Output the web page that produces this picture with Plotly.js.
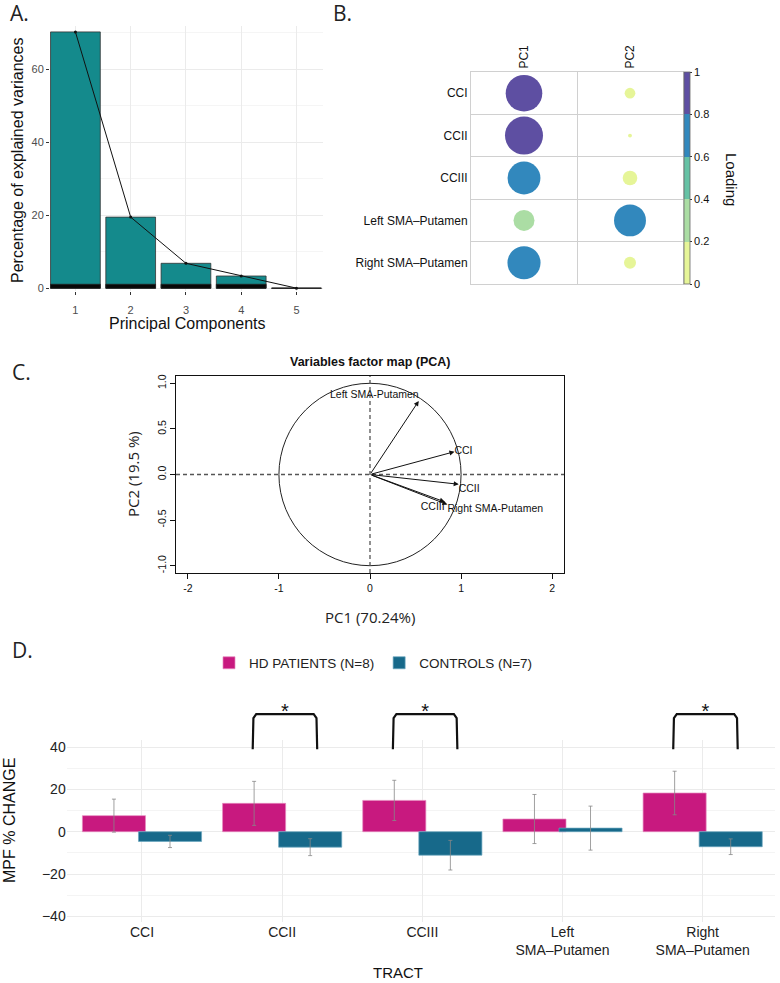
<!DOCTYPE html>
<html><head><meta charset="utf-8">
<script src="https://cdn.plot.ly/plotly-3.0.1.min.js"></script>
<style>html,body{margin:0;padding:0;background:#fff;}</style>
</head><body><div id="chart" style="width:780px;height:983px;"></div>
<script>
// ---------- Panel A: scree plot ----------
const pcNames = ['1','2','3','4','5'];
const explainedVar = [70.24, 19.5, 6.85, 3.37, 0.04];
// ---------- Panel B: loadings (cos2) ----------
const tracts = ['CCI','CCII','CCIII','Left SMA\u2013Putamen','Right SMA\u2013Putamen'];
const pcCols = ['PC1','PC2'];
const loadPC1 = [0.88, 0.95, 0.71, 0.29, 0.72];
const loadPC2 = [0.075, 0.01, 0.14, 0.67, 0.095];
// ---------- Panel C: variables factor map ----------
const varNames = ['Left SMA-Putamen','CCI','CCII','CCIII','Right SMA-Putamen'];
const dim1 = [0.535, 0.927, 0.974, 0.82, 0.85];
const dim2 = [0.806, 0.25, -0.107, -0.30, -0.33];
const labelPos = ['top left','middle right','bottom right','bottom left','bottom right'];
// ---------- Panel D: MPF % change ----------
const tractLabels = ['CCI','CCII','CCIII','Left<br>SMA\u2013Putamen','Right<br>SMA\u2013Putamen'];
const hdMean = [7.6, 13.4, 14.8, 6.0, 18.3];
const hdErr = [7.8, 10.4, 9.5, 11.6, 10.3];
const ctrlMean = [-4.6, -7.3, -11.1, 1.7, -7.1];
const ctrlErr = [2.9, 4.0, 7.0, 10.4, 3.7];
const sigTracts = ['CCII','CCIII','Right<br>SMA\u2013Putamen'];
const yTicksD = [-40,-20,0,20,40];

const W = 780, H = 983;
const px = v => v / W;
const py = v => 1 - v / H;
const SANS = 'Liberation Sans';
const OPEN = 'Open Sans';

const traces = [];
// Panel A
const pcX = pcNames.map((_, i) => i + 1);
traces.push({type:'bar', x: pcX, y: explainedVar, width: 0.9, xaxis:'x', yaxis:'y',
  marker:{color:'#148a8c', line:{color:'#333', width:0.8}}, showlegend:false, hoverinfo:'skip'});
traces.push({type:'bar', x: pcX, y: explainedVar.map(v => Math.min(v, 1.1)), width: 0.9, xaxis:'x', yaxis:'y',
  marker:{color:'#080808', line:{color:'#222', width:0.8}}, showlegend:false, hoverinfo:'skip'});
traces.push({type:'scatter', mode:'lines+markers', x: pcX, y: explainedVar, xaxis:'x', yaxis:'y',
  line:{color:'#111', width:1}, marker:{color:'#111', size:3}, showlegend:false});

// Panel B
const bx = [], by = [], bv = [];
[loadPC1, loadPC2].forEach((arr, c) => arr.forEach((v, r) => { bx.push(c); by.push(r); bv.push(v); }));
const spectral = [[0,'#E6F598'],[0.2,'#E6F598'],[0.2,'#ABDDA4'],[0.4,'#ABDDA4'],[0.4,'#66C2A5'],[0.6,'#66C2A5'],
  [0.6,'#3288BD'],[0.8,'#3288BD'],[0.8,'#5E4FA2'],[1,'#5E4FA2']];
traces.push({type:'scatter', mode:'markers', x: bx, y: by, xaxis:'x2', yaxis:'y2', showlegend:false,
  marker:{size: bv.map(v => Math.sqrt(v) * 39), color: bv, cmin:0, cmax:1, colorscale: spectral, opacity:1,
    line:{width:0},
    colorbar:{x: px(684), xanchor:'left', xpad:0, y: py(178), yanchor:'middle', len:212, lenmode:'pixels', ypad:0,
      thickness:6, outlinewidth:0.8, outlinecolor:'#666',
      tickvals:[0,0.2,0.4,0.6,0.8,1], ticktext:['0','0.2','0.4','0.6','0.8','1'],
      ticks:'outside', ticklen:2, tickcolor:'#333', tickfont:{family:SANS, size:11, color:'#111'}}}});

// Panel C
traces.push({type:'scatter', mode:'text', x: dim1, y: dim2, text: varNames, textposition: labelPos,
  xaxis:'x3', yaxis:'y3', cliponaxis:false, showlegend:false,
  textfont:{family:SANS, size:10.5, color:'#111'}});

// Panel D
traces.push({type:'bar', name:'HD PATIENTS (N=8)', x: tractLabels, y: hdMean, xaxis:'x4', yaxis:'y4',
  offset:-0.425, width:0.45, marker:{color:'#c8197f', line:{color:'#e58abf', width:0.7}},
  error_y:{type:'data', array: hdErr, visible:true, color:'#888', thickness:0.8, width:2}});
traces.push({type:'bar', name:'CONTROLS (N=7)', x: tractLabels, y: ctrlMean, xaxis:'x4', yaxis:'y4',
  offset:-0.025, width:0.45, marker:{color:'#17698a', line:{color:'#6aa6bf', width:0.7}},
  error_y:{type:'data', array: ctrlErr, visible:true, color:'#888', thickness:0.8, width:2}});
// significance brackets
sigTracts.forEach(t => {
  const i = tractLabels.indexOf(t);
  traces.push({type:'scatter', mode:'lines', xaxis:'x5', yaxis:'y5', showlegend:false, hoverinfo:'skip',
    x:[i-0.21, i-0.205, i-0.185, i+0.225, i+0.245, i+0.25], y:[39, 53.8, 55.6, 55.6, 53.8, 39],
    line:{color:'#111', width:2.2}});
  traces.push({type:'scatter', mode:'text', xaxis:'x5', yaxis:'y5', showlegend:false, cliponaxis:false,
    x:[i+0.02], y:[56.2], text:['*'], textfont:{family:SANS, size:20, color:'#111'}});
});

const layout = {
  width: W, height: H, margin:{l:0, r:0, t:0, b:0}, paper_bgcolor:'#fff', plot_bgcolor:'rgba(0,0,0,0)',
  barmode:'overlay', font:{family:SANS, color:'#222'},
  // A
  xaxis:{domain:[px(50), px(323)], anchor:'y', range:[0.54, 5.48], tickvals: pcX, ticktext: pcNames,
    showgrid:true, gridcolor:'#ebebeb', zeroline:false, ticks:'outside', ticklen:3, tickcolor:'#333',
    ticklabelstandoff:6, tickfont:{family:SANS, size:11, color:'#4d4d4d'}},
  yaxis:{domain:[py(291), py(26)], anchor:'x', range:[-0.74, 71.86], tickvals:[0,20,40,60],
    showgrid:true, gridcolor:'#ebebeb', zeroline:false, ticks:'outside', ticklen:3, tickcolor:'#333',
    tickfont:{family:SANS, size:11, color:'#4d4d4d'}, minor:{dtick:10, tick0:0, showgrid:true, gridcolor:'#f5f5f5', ticks:''}},
  // B
  xaxis2:{domain:[px(471), px(683)], anchor:'y2', side:'top', range:[-0.5, 1.5], tickvals:[0,1], ticktext: pcCols,
    tickangle:-90, showgrid:false, zeroline:false, showline:true, mirror:true, linecolor:'#d0d0d0', linewidth:1,
    ticks:'', tickfont:{family:SANS, size:12, color:'#111'},
    minor:{tickmode:'array', tickvals:[0.5], showgrid:true, gridcolor:'#d0d0d0', gridwidth:1, ticks:''}},
  yaxis2:{domain:[py(284), py(72)], anchor:'x2', range:[4.5, -0.5], tickvals:[0,1,2,3,4], ticktext: tracts,
    showgrid:false, zeroline:false, showline:true, mirror:true, linecolor:'#d0d0d0', linewidth:1, ticks:'',
    tickfont:{family:SANS, size:12, color:'#111'},
    minor:{tickmode:'array', tickvals:[0.5,1.5,2.5,3.5], showgrid:true, gridcolor:'#d0d0d0', gridwidth:1, ticks:''}},
  // C
  xaxis3:{domain:[px(176), px(564)], anchor:'y3', range:[-2.13, 2.13], tickvals:[-2,-1,0,1,2],
    ticktext:['-2','-1','0','1','2'], showgrid:false, zeroline:false, showline:true, mirror:true,
    linecolor:'#111', linewidth:1, ticks:'outside', ticklen:5, tickcolor:'#111', tickfont:{family:SANS, size:10.5, color:'#111'}},
  yaxis3:{domain:[py(573), py(376)], anchor:'x3', range:[-1.08, 1.08], tickvals:[-1,-0.5,0,0.5,1],
    ticktext:['-1.0','-0.5','0.0','0.5','1.0'], tickangle:-90, showgrid:false, zeroline:false, showline:true,
    mirror:true, linecolor:'#111', linewidth:1, ticks:'outside', ticklen:5, tickcolor:'#111',
    tickfont:{family:SANS, size:10.5, color:'#111'}},
  // D
  xaxis4:{domain:[px(66.7), px(775)], anchor:'y4', type:'category', categoryorder:'array', categoryarray: tractLabels,
    range:[-0.537, 4.516], showgrid:true, gridcolor:'#ebebeb', zeroline:false, ticks:'',
    tickfont:{family:SANS, size:14, color:'#222'}},
  yaxis4:{domain:[py(921.7), py(740)], anchor:'x4', range:[-42.55, 43.36], tickvals: yTicksD,
    ticktext: yTicksD.map(v => v < 0 ? '\u2212' + Math.abs(v) : String(v)),
    showgrid:true, gridcolor:'#ebebeb', zeroline:false, ticks:'', tickfont:{family:SANS, size:14, color:'#222'},
    minor:{dtick:10, tick0:0, showgrid:true, gridcolor:'#f4f4f4', ticks:''}},
  xaxis5:{domain:[px(66.7), px(775)], anchor:'y5', range:[-0.537, 4.516], visible:false},
  yaxis5:{domain:[py(750), py(700)], anchor:'x5', range:[38.67, 62.32], visible:false},
  legend:{orientation:'h', x: px(209), xanchor:'left', y: py(663), yanchor:'middle',
    font:{family:SANS, size:13.5, color:'#222'}, bgcolor:'rgba(0,0,0,0)'},
  shapes:[
    {type:'circle', xref:'x3', yref:'y3', x0:-1, x1:1, y0:-1, y1:1, line:{color:'#222', width:1}},
    {type:'line', xref:'x3 domain', yref:'y3', x0:0, x1:1, y0:0, y1:0, line:{color:'#555', width:1.3, dash:'4px,3px'}},
    {type:'line', xref:'x3', yref:'y3 domain', x0:0, x1:0, y0:0, y1:1, line:{color:'#555', width:1.3, dash:'4px,3px'}}
  ],
  annotations:[]
};

// Panel C arrows
dim1.forEach((v, i) => {
  layout.annotations.push({xref:'x3', yref:'y3', axref:'x3', ayref:'y3', x: v, y: dim2[i], ax:0, ay:0,
    text:'', showarrow:true, arrowhead:2, arrowsize:1, arrowwidth:1, arrowcolor:'#111', standoff:0});
});

const ann = (text, x, y, size, opts) => Object.assign({xref:'paper', yref:'paper', x: px(x), y: py(y),
  text: text, showarrow:false, font:{family:SANS, size:size, color:'#111'}, xanchor:'center', yanchor:'middle'}, opts || {});
layout.annotations.push(
  ann('A.', 8, 13, 21, {xanchor:'left', font:{family:OPEN, size:21, color:'#222'}}),
  ann('B.', 331, 13, 21, {xanchor:'left', font:{family:OPEN, size:21, color:'#222'}}),
  ann('C.', 10, 372, 21, {xanchor:'left', font:{family:OPEN, size:21, color:'#222'}}),
  ann('D.', 10, 650, 21, {xanchor:'left', font:{family:OPEN, size:21, color:'#222'}}),
  ann('Percentage of explained variances', 17, 160, 16, {textangle:-90}),
  ann('Principal Components', 187, 323, 16),
  ann('Loading', 731, 179, 15, {textangle:90}),
  ann('<b>Variables factor map (PCA)</b>', 370, 362, 12.5),
  ann('PC2 (19.5 %)', 133, 474, 15, {textangle:-90, font:{family:OPEN, size:15, color:'#222'}}),
  ann('PC1 (70.24%)', 370, 617, 15, {font:{family:OPEN, size:15, color:'#222'}}),
  ann('MPF % CHANGE', 9, 821, 16, {textangle:-90}),
  ann('TRACT', 398, 972, 15)
);

Plotly.newPlot('chart', traces, layout, {displayModeBar:false, staticPlot:true});
</script></body></html>
